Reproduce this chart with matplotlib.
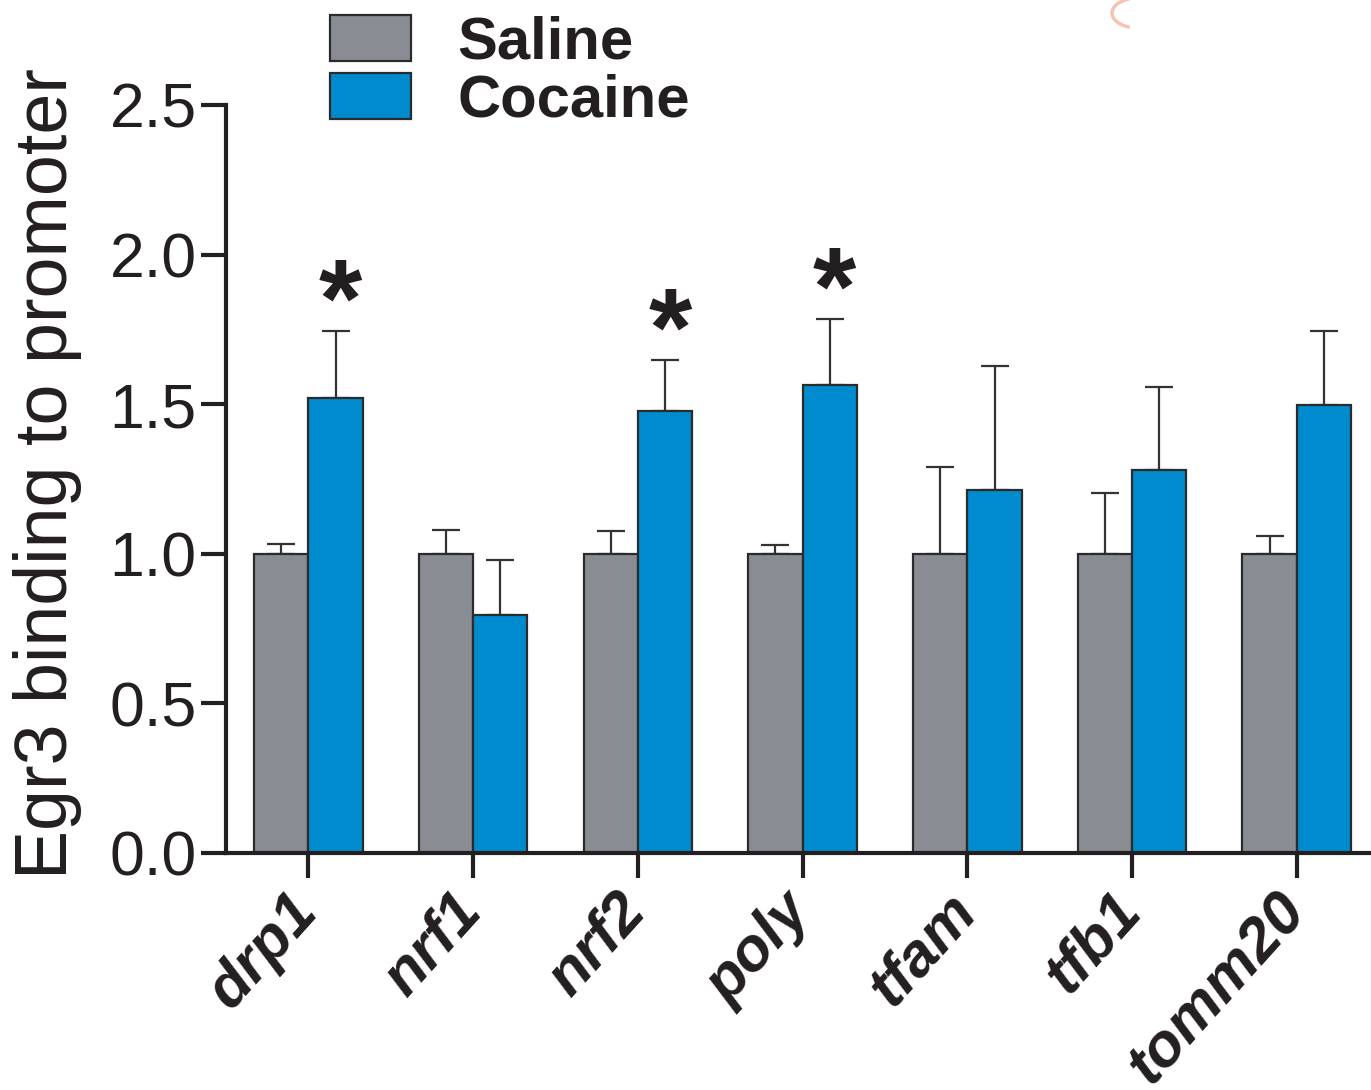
import matplotlib
matplotlib.use("Agg")
import matplotlib.pyplot as plt
import matplotlib.transforms as mtransforms
from matplotlib.patches import Patch, Arc
import numpy as np

# Data
genes = ["drp1", "nrf1", "nrf2", "poly", "tfam", "tfb1", "tomm20"]
saline_mean = [1.0, 1.0, 1.0, 1.0, 1.0, 1.0, 1.0]
saline_sem = [0.033, 0.08, 0.076, 0.03, 0.29, 0.203, 0.06]
cocaine_mean = [1.52, 0.795, 1.477, 1.564, 1.213, 1.28, 1.497]
cocaine_sem = [0.225, 0.185, 0.171, 0.221, 0.415, 0.277, 0.248]
significant = [True, False, True, True, False, False, False]
y_ticks = [0.0, 0.5, 1.0, 1.5, 2.0, 2.5]
y_tick_labels = ["0.0", "0.5", "1.0", "1.5", "2.0", "2.5"]

plt.rcParams["font.family"] = ["Liberation Sans", "DejaVu Sans"]

W, H = 1371, 1090
fig = plt.figure(figsize=(W / 100, H / 100), dpi=100)
ax = fig.add_axes([226 / W, 1 - 853 / H, (W - 226) / W, (853 - 105) / H])

gray = "#898c93"
blue = "#008bcf"
edge = "#2b2b2b"
ink = "#231f20"

x = np.arange(len(genes))
w = 0.33

ax.bar(x - w / 2, saline_mean, w, color=gray, edgecolor=edge, linewidth=1.6, zorder=2)
ax.bar(x + w / 2, cocaine_mean, w, color=blue, edgecolor=edge, linewidth=1.6, zorder=2)

zeros = np.zeros(len(genes))
ax.errorbar(x - w / 2, saline_mean, yerr=[zeros, saline_sem], fmt="none",
            ecolor="#333333", elinewidth=1.6, capsize=10, capthick=1.6, zorder=1)
ax.errorbar(x + w / 2, cocaine_mean, yerr=[zeros, cocaine_sem], fmt="none",
            ecolor="#333333", elinewidth=1.6, capsize=10, capthick=1.6, zorder=1)

# significance markers
for xi, m, s, sig in zip(x, cocaine_mean, cocaine_sem, significant):
    if sig:
        ax.annotate("*", xy=(xi + w / 2 + 0.03, m + s), xytext=(0, -4),
                    textcoords="offset points", ha="center", va="baseline",
                    fontsize=80, fontweight="bold", color=ink)

ax.set_xlim(-0.5, 6.45)
ax.set_ylim(0, 2.5)
ax.set_yticks(y_ticks)
ax.set_yticklabels(y_tick_labels, fontsize=45, color=ink)
ax.set_xticks(x)
ax.set_xticklabels([])

# rotated category labels hanging below the tick marks
label_trans = ax.get_xaxis_transform() + mtransforms.ScaledTranslation(
    -22 / 100, -30 / 100, fig.dpi_scale_trans)
for xi, g in zip(x, genes):
    ax.text(xi, 0, g, transform=label_trans, rotation=48, ha="right", va="top",
            rotation_mode="anchor", fontsize=44, fontweight="bold",
            fontstyle="italic", color=ink, clip_on=False)

for sp in ["top", "right"]:
    ax.spines[sp].set_visible(False)
for sp in ["left", "bottom"]:
    ax.spines[sp].set_linewidth(3)
    ax.spines[sp].set_color(ink)
ax.tick_params(axis="both", direction="out", length=18, width=3, color=ink)
ax.tick_params(axis="y", pad=3)

fig.text(48 / W, 1 - 474 / H, "Egr3 binding to promoter", rotation=90,
         ha="center", va="center", fontsize=53, color=ink)

handles = [Patch(facecolor=gray, edgecolor=edge, linewidth=1.6, label="Saline"),
           Patch(facecolor=blue, edgecolor=edge, linewidth=1.6, label="Cocaine")]
fig.legend(handles=handles, loc="upper left", bbox_to_anchor=(330 / W, 1 - 15 / H),
           frameon=False, borderpad=0, borderaxespad=0,
           prop={"weight": "bold", "size": 43},
           handlelength=1.36, handleheight=0.8, handletextpad=0.77, labelspacing=0.04,
           labelcolor=ink)

# faint mark along the top edge
arc = Arc((1138 / W, 1 - 13 / H), 52 / W, 30 / H, theta1=115, theta2=245,
          transform=fig.transFigure, color="#f7c2b0", linewidth=2.5)
fig.add_artist(arc)

fig.savefig("out.png", dpi=100)
